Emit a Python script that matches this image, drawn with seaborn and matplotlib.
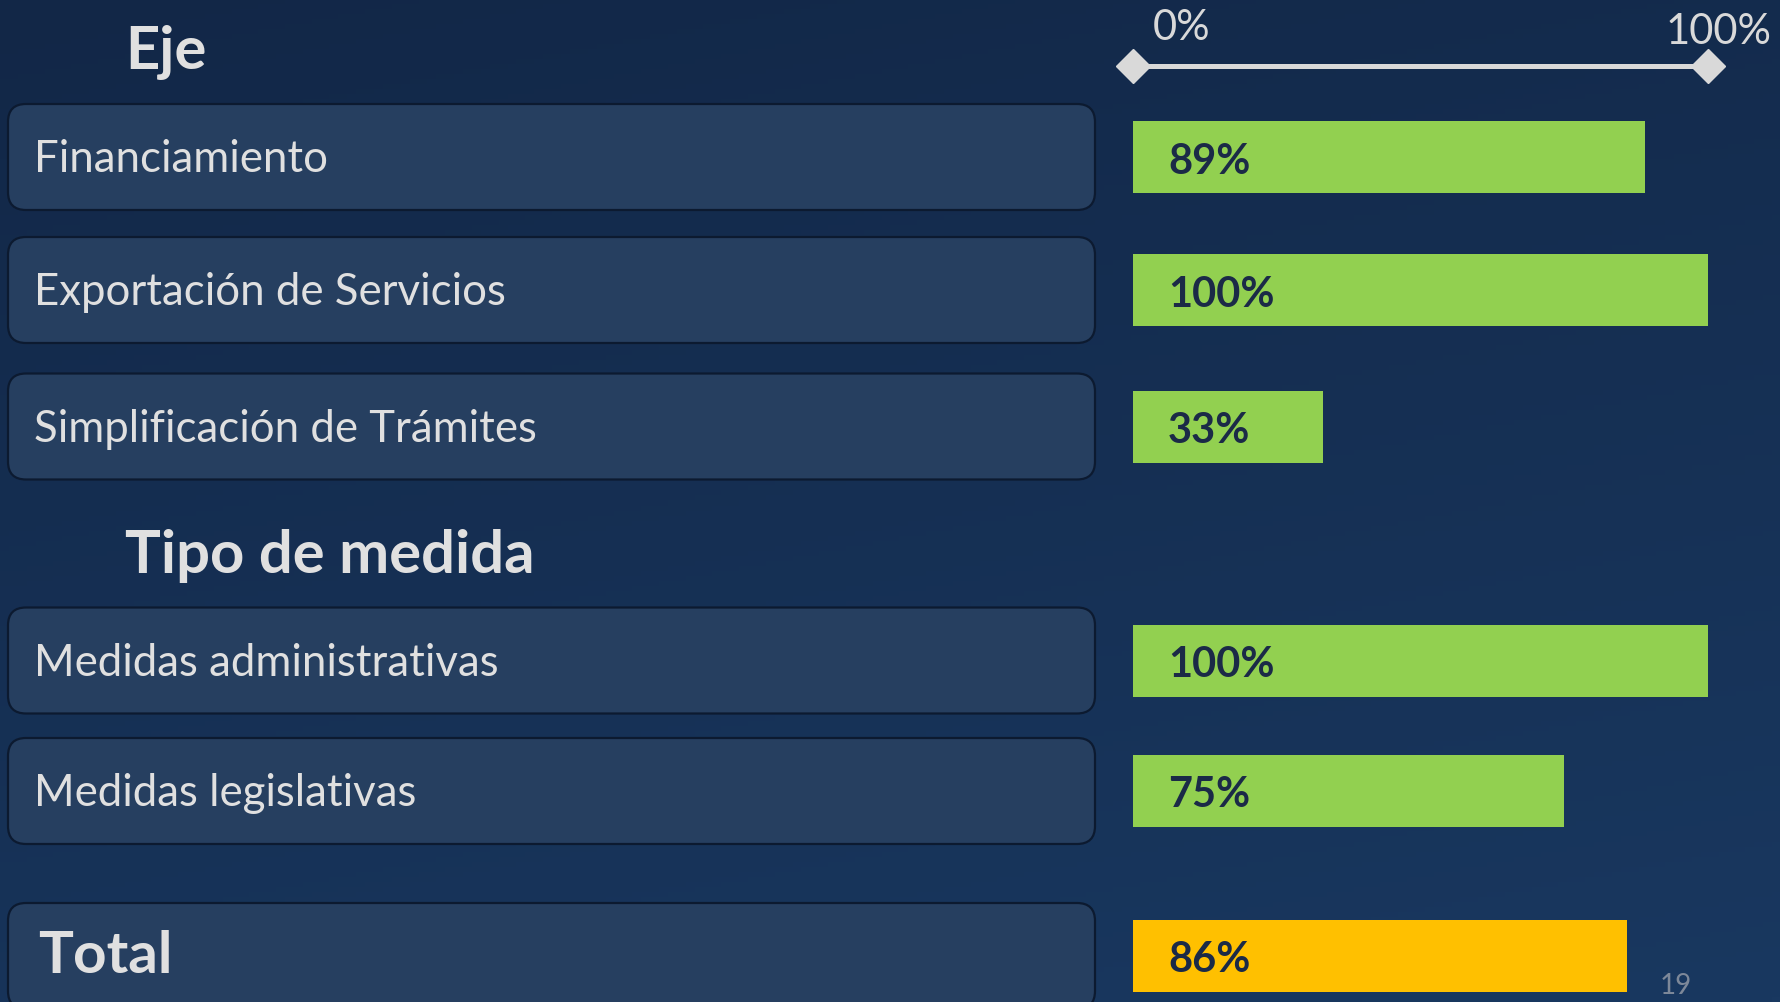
import numpy as np
import pandas as pd
import matplotlib
matplotlib.use("Agg")
import matplotlib.pyplot as plt
from matplotlib.patches import FancyBboxPatch
import seaborn as sns

# ---------------- data ----------------
categories = ["Financiamiento", "Exportación de Servicios", "Simplificación de Trámites",
              "Medidas administrativas", "Medidas legislativas", "Total"]
values = [89, 100, 33, 100, 75, 86]
groups = ["Eje", "Eje", "Eje", "Tipo de medida", "Tipo de medida", "Total"]
section_titles = ["Eje", "Tipo de medida"]
axis_labels = ["0%", "100%"]
page_number = "19"

# ---------------- layout (pixels) ----------------
W, H = 1781, 1003
row_centers = [158, 291, 427.5, 661.5, 792, 957]
bar_x0, bar_x1 = 1133, 1708
bar_h = 72
box_x0, box_x1, box_h = 8, 1095, 106

sns.set_theme(style="white")
plt.rcParams["font.family"] = ["Lato", "DejaVu Sans"]

fig = plt.figure(figsize=(W / 100, H / 100), dpi=100)

# background gradient
bg = fig.add_axes([0, 0, 1, 1])
bg.set_xlim(0, W)
bg.set_ylim(H, 0)
bg.axis("off")
yy, xx = np.mgrid[0:1:200j, 0:1:200j]
t = 0.75 * yy + 0.25 * xx
c0 = np.array([0x12, 0x27, 0x47]) / 255
c1 = np.array([0x19, 0x38, 0x60]) / 255
img = c0[None, None, :] * (1 - t[..., None]) + c1[None, None, :] * t[..., None]
bg.imshow(img, extent=[0, W, H, 0], aspect="auto", zorder=0)

text_col = "#e0e0e0"

# rounded label boxes
for i, (cat, yc) in enumerate(zip(categories, row_centers)):
    box = FancyBboxPatch((box_x0 + 18, yc - box_h / 2 + 18), box_x1 - box_x0 - 36, box_h - 36,
                         boxstyle="round,pad=18", facecolor="#263f60",
                         edgecolor="#0c1a30", linewidth=1.6, zorder=2)
    bg.add_patch(box)
    if cat == "Total":
        bg.text(38, yc + 16, cat, color=text_col, fontsize=42, fontweight="bold",
                va="baseline", ha="left", zorder=3)
    else:
        bg.text(34, yc + 14, cat, color=text_col, fontsize=31.5,
                va="baseline", ha="left", zorder=3)

# section headings
bg.text(125, 69, section_titles[0], color=text_col, fontsize=43, fontweight="bold",
        va="baseline", ha="left", zorder=3)
bg.text(125, 573, section_titles[1], color=text_col, fontsize=43, fontweight="bold",
        va="baseline", ha="left", zorder=3)

# page number
bg.text(1660, 994, page_number, color="#7d8899", fontsize=20, va="baseline", ha="left", zorder=3)

# ---------------- bars ----------------
ax = fig.add_axes([bar_x0 / W, 0, (bar_x1 - bar_x0) / W, 1])
df = pd.DataFrame({"categoria": categories, "valor": values, "grupo": groups,
                   "pos": row_centers})
min_gap = np.min(np.diff(sorted(row_centers)))
sns.barplot(data=df, x="valor", y="pos", hue="grupo", orient="h", native_scale=True,
            dodge=False, width=bar_h / min_gap,
            palette={"Eje": "#92d050", "Tipo de medida": "#92d050", "Total": "#ffc000"},
            saturation=1, legend=False, ax=ax, zorder=3, linewidth=0, edgecolor="none")
ax.set_xlim(0, 100)
ax.set_ylim(H, 0)
ax.axis("off")
ax.patch.set_alpha(0)

scale_per_pct = (bar_x1 - bar_x0) / 100.0
for v, yc in zip(values, row_centers):
    ax.text(35 / scale_per_pct, yc + 15.5, f"{v}%", color="#1b2a47", fontsize=30,
            fontweight="bold", va="baseline", ha="left", zorder=4)

# scale line 0% - 100%
ax.plot([0, 100], [67, 67], color="#d9d9d9", linewidth=3.6, solid_capstyle="butt",
        marker="D", markersize=17, markevery=[0, 1], zorder=4, clip_on=False)
ax.text(20 / scale_per_pct, 40, axis_labels[0], color="#d9d9d9", fontsize=30,
        va="baseline", ha="left")
ax.text(100 + 64 / scale_per_pct, 44, axis_labels[1], color="#d9d9d9", fontsize=30,
        va="baseline", ha="right")

fig.savefig("out.png", dpi=100)
